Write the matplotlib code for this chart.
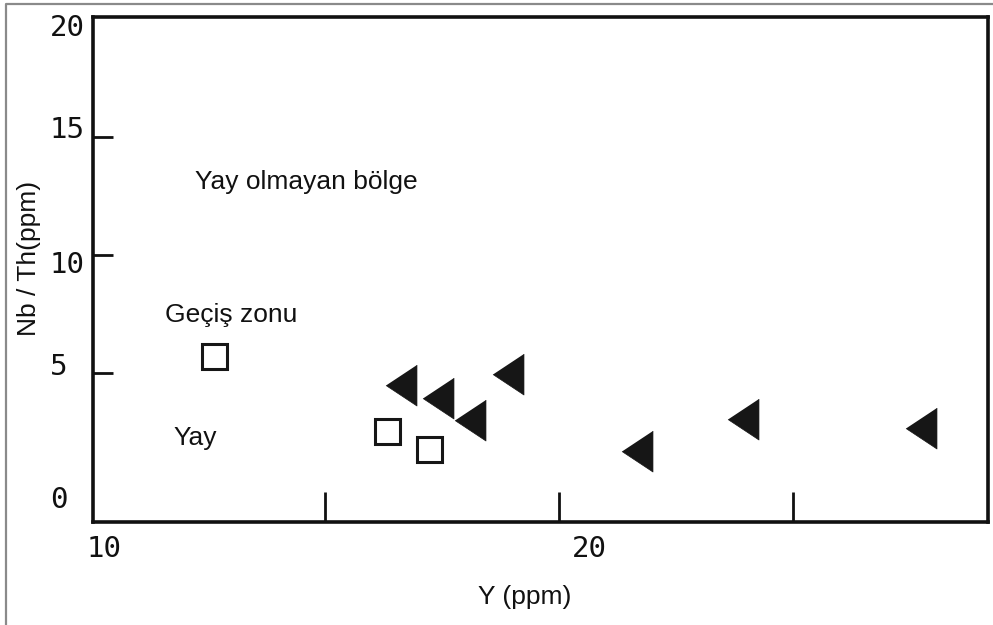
import matplotlib
matplotlib.use("Agg")
import matplotlib.pyplot as plt
from matplotlib.lines import Line2D

# Data
square_x = [12.63, 16.32, 17.22]
square_y = [5.72, 2.54, 1.78]
tri_x = [16.62, 17.41, 18.10, 18.91, 21.67, 23.93, 27.74]
tri_y = [4.49, 3.94, 3.00, 4.96, 1.69, 3.05, 2.67]

ytick_labels = ["0", "5", "10", "15", "20"]
ytick_label_pos = [-0.38, 5.25, 9.58, 15.3, 19.62]
xtick_labels = ["10", "20"]
xtick_label_pos = [10.28, 20.66]
ytick_marks = [5, 10, 15]
xtick_marks = [15, 20, 25]

region_texts = ["Yay olmayan bölge", "Geçiş zonu", "Yay"]
region_x = [12.22, 11.58, 11.75]
region_y = [13.09, 7.46, 2.25]

W, H = 993, 625
fig = plt.figure(figsize=(W / 100, H / 100), dpi=100)
fig.patch.set_facecolor("white")

ax = fig.add_axes([93 / W, 1 - 522 / H, (988 - 93) / W, (522 - 17) / H])
ax.set_xlim(10.04, 29.17)
ax.set_ylim(-1.31, 20.08)

for s in ax.spines.values():
    s.set_linewidth(2.6)
    s.set_color("#111111")

ax.set_xticks(xtick_marks)
ax.set_yticks(ytick_marks)
ax.set_xticklabels([])
ax.set_yticklabels([])
ax.tick_params(axis="x", direction="in", length=21.5, width=2.0, color="#111111")
ax.tick_params(axis="y", direction="in", length=14.5, width=2.0, color="#111111")

tri_marker = [(0.755, 1.0), (0.755, -1.0), (-0.755, 0.0)]
ax.plot(tri_x, tri_y, linestyle="none", marker=tri_marker, markersize=29.5,
        markerfacecolor="#161616", markeredgecolor="#161616", markeredgewidth=0.5)
ax.plot(square_x, square_y, linestyle="none", marker="s", markersize=18,
        markerfacecolor="white", markeredgecolor="#161616", markeredgewidth=2.2)

tick_font = dict(family="DejaVu Sans Mono", fontsize=21, color="#111111")
for lab, yv in zip(ytick_labels, ytick_label_pos):
    ax.text((50 - 93) / (988 - 93), yv, lab, transform=ax.get_yaxis_transform(),
            ha="left", va="center", **tick_font)
for lab, xv in zip(xtick_labels, xtick_label_pos):
    ax.text(xv, (522 - 549) / (522 - 17), lab, transform=ax.get_xaxis_transform(),
            ha="center", va="center", **tick_font)

txt_font = dict(family="Liberation Sans", fontsize=19, color="#111111")
for t, xv, yv in zip(region_texts, region_x, region_y):
    ax.text(xv, yv, t, ha="left", va="center", **txt_font)

fig.text(525 / W, 1 - 597 / H, "Y (ppm)", ha="center", va="center", **txt_font)
fig.text(29 / W, 1 - 258 / H, "Nb / Th(ppm)", ha="center", va="center",
         rotation=90, **txt_font)

# outer frame (left and top edges)
fig.add_artist(Line2D([6 / W, 6 / W, 1.0], [0.0, 1 - 4 / H, 1 - 4 / H],
                      transform=fig.transFigure, color="#8a8a8a", linewidth=1.6))

fig.savefig("out.png", dpi=100, facecolor="white")
